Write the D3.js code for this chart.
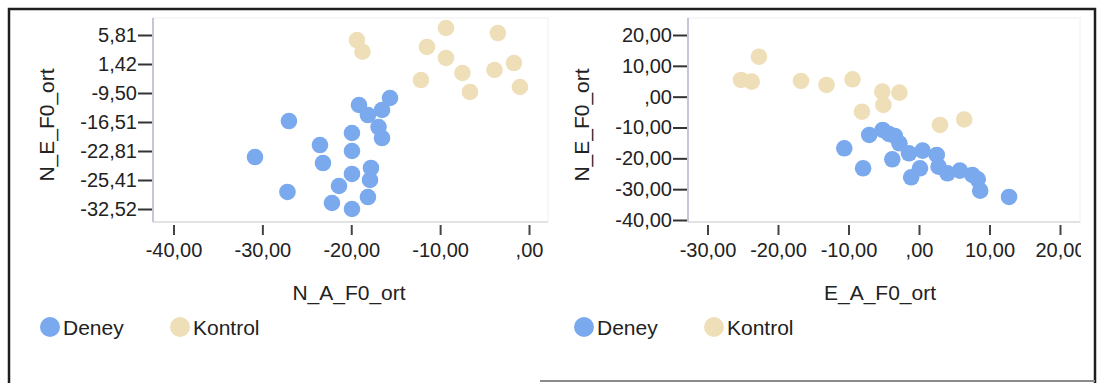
<!DOCTYPE html>
<html>
<head>
<meta charset="utf-8">
<script src="https://cdn.jsdelivr.net/npm/d3@7"></script>
<style>
  html, body { margin: 0; padding: 0; background: #fff; }
  svg { display: block; font-family: "Liberation Sans", Arial, sans-serif; }
</style>
</head>
<body>
<svg id="chart" width="1098" height="383"></svg>
<script>
// Group names
const groups = ["Deney", "Kontrol"];

// Left panel: N_A_F0_ort (x) vs N_E_F0_ort (y)
const leftDeneyX = [-15.64, -19.13, -16.54, -18.12, -27.01, -16.93, -19.92, -16.54, -23.52, -30.83,
                    -19.92, -23.18, -17.78, -19.92, -17.89, -21.38, -27.18, -18.12, -22.17, -19.92];
const leftDeneyY = [-10.71, -12.40, -13.61, -14.82, -16.27, -17.60, -18.90, -19.99, -21.51, -23.35,
                    -22.81, -23.89, -24.33, -24.87, -25.41, -26.88, -28.35, -29.58, -31.05, -32.52];
const leftKontrolX = [-19.36, -18.74, -9.34, -11.48, -3.50, -9.34, -7.49, -3.88, -1.69, -12.16, -6.64, -1.02];
const leftKontrolY = [5.05, 3.28, 6.87, 4.00, 6.11, 2.33, -1.97, -0.84, 1.57, -4.61, -9.12, -7.24];
const leftXTicks = [-40, -30, -20, -10, 0];
const leftYTicks = [5.81, 1.42, -9.50, -16.51, -22.81, -25.41, -32.52];

// Right panel: E_A_F0_ort (x) vs N_E_F0_ort (y)
const rightDeneyX = [-10.60, -7.06, -5.15, -4.26, -3.43, -2.78, -3.79, -1.42, 0.51, -7.93,
                     -1.11, 0.14, 2.52, 2.78, 4.04, 5.80, 7.57, 8.33, 8.68, 12.77];
const rightDeneyY = [-16.74, -12.42, -10.80, -12.10, -12.75, -15.12, -20.30, -18.36, -17.50, -23.22,
                     -26.14, -23.22, -18.91, -22.70, -24.85, -24.00, -25.40, -26.80, -30.49, -32.52];
const rightKontrolX = [-22.70, -25.25, -23.73, -16.74, -13.12, -9.43, -5.21, -2.78, -5.05, -8.09, 2.98, 6.41];
const rightKontrolY = [12.97, 5.42, 4.87, 5.09, 3.79, 5.64, 1.62, 1.30, -2.69, -4.87, -9.18, -7.40];
const rightXTicks = [-30, -20, -10, 0, 10, 20];
const rightYTicks = [20, 10, 0, -10, -20, -30, -40];

const colors = { Deney: "#7aa9ee", Kontrol: "#efdfb9" };

// Two decimals with a decimal comma and a plain hyphen for negatives;
// a leading zero before the comma is dropped (",00")
const fmt = v => d3.format(".2f")(v)
  .replace("\u2212", "-")
  .replace(".", ",")
  .replace(/^(-?)0,/, "$1,");

const svg = d3.select("#chart");

// Outer frame
svg.append("path")
  .attr("d", "M9,383 L9,9 L1095,9 L1095,383")
  .attr("fill", "none").attr("stroke", "#1e1e1e").attr("stroke-width", 2.5);
svg.append("line")
  .attr("x1", 540).attr("x2", 1095).attr("y1", 381).attr("y2", 381)
  .attr("stroke", "#8a8a8a").attr("stroke-width", 2);

function panel(cfg) {
  const g = svg.append("g");
  const { left, right, top, bottom } = cfg.box;

  // Plot area outline
  g.append("rect")
    .attr("x", left).attr("y", top).attr("width", right - left).attr("height", bottom - top)
    .attr("fill", "#fff").attr("stroke", "#f0f0f0").attr("stroke-width", 1);
  g.append("line")
    .attr("x1", left).attr("x2", right).attr("y1", bottom).attr("y2", bottom)
    .attr("stroke", "#dcdcdc").attr("stroke-width", 1.5);
  g.append("line")
    .attr("x1", left).attr("x2", left).attr("y1", top).attr("y2", bottom)
    .attr("stroke", "#c6c6da").attr("stroke-width", 2);

  const x = cfg.x, y = cfg.y;

  // Clip for the tick labels at the right edge
  const clipId = "clip-" + cfg.id;
  svg.append("clipPath").attr("id", clipId)
    .append("rect").attr("x", 0).attr("y", 0).attr("width", cfg.clipRight).attr("height", 383);

  // X axis: short ticks hanging below the plot area
  const xa = g.append("g")
    .attr("transform", `translate(0,${bottom + 3})`)
    .attr("clip-path", `url(#${clipId})`)
    .call(d3.axisBottom(x).tickValues(cfg.xTicks).tickFormat(fmt).tickSize(10).tickPadding(8));
  xa.select(".domain").remove();
  xa.selectAll(".tick line").attr("stroke", "#444").attr("stroke-width", 2);
  xa.selectAll(".tick text").attr("font-size", 20).attr("fill", "#222")
    .attr("font-family", "Liberation Sans, Arial, sans-serif");

  // Y axis
  const ya = g.append("g")
    .attr("transform", `translate(${left - 1},0)`)
    .call(d3.axisLeft(y).tickValues(cfg.yTicks).tickFormat(fmt).tickSize(14).tickPadding(1));
  ya.select(".domain").remove();
  ya.selectAll(".tick line").attr("stroke", "#333").attr("stroke-width", 2);
  ya.selectAll(".tick text").attr("font-size", 20).attr("fill", "#222")
    .attr("font-family", "Liberation Sans, Arial, sans-serif");

  // Points: Kontrol first, then Deney
  const series = [
    { key: "Kontrol", xs: cfg.kontrolX, ys: cfg.kontrolY },
    { key: "Deney", xs: cfg.deneyX, ys: cfg.deneyY }
  ];
  series.forEach(s => {
    g.append("g").selectAll("circle")
      .data(s.xs.map((v, i) => [v, s.ys[i]]))
      .join("circle")
      .attr("cx", d => x(d[0]))
      .attr("cy", d => y(d[1]))
      .attr("r", 8.3)
      .attr("fill", colors[s.key]);
  });

  // Axis titles
  g.append("text")
    .attr("x", cfg.xTitlePos[0]).attr("y", cfg.xTitlePos[1])
    .attr("text-anchor", "middle").attr("font-size", 21).attr("fill", "#222")
    .text(cfg.xTitle);
  g.append("text")
    .attr("transform", `translate(${cfg.yTitlePos[0]},${cfg.yTitlePos[1]}) rotate(-90)`)
    .attr("text-anchor", "middle").attr("font-size", 21).attr("fill", "#222")
    .text(cfg.yTitle);

  // Legend
  const lg = g.append("g");
  groups.forEach((name, i) => {
    const cx = cfg.legendX[i];
    lg.append("circle").attr("cx", cx).attr("cy", 327).attr("r", 10).attr("fill", colors[name]);
    lg.append("text").attr("x", cx + 13).attr("y", 335)
      .attr("font-size", 21).attr("fill", "#222").text(name);
  });
}

// Left panel scales: the vertical axis places its labelled values at equal steps
const lBox = { left: 153, right: 548, top: 18, bottom: 222 };
const lx = d3.scaleLinear().domain([-40, 0]).range([173.5, 529]);
const lyStep = (209 - 35) / (leftYTicks.length - 1);
const ly = d3.scaleLinear().domain(leftYTicks).range(leftYTicks.map((_, i) => 35 + i * lyStep));

panel({
  id: "left", box: lBox, x: lx, y: ly, clipRight: 1098,
  xTicks: leftXTicks, yTicks: leftYTicks,
  deneyX: leftDeneyX, deneyY: leftDeneyY, kontrolX: leftKontrolX, kontrolY: leftKontrolY,
  xTitle: "N_A_F0_ort", yTitle: "N_E_F0_ort",
  xTitlePos: [349, 300], yTitlePos: [54, 125],
  legendX: [50, 180]
});

// Right panel scales
const rBox = { left: 688, right: 1080, top: 18, bottom: 222 };
const rx = d3.scaleLinear().domain([-30, 20]).range([707.5, 1060]);
const ry = d3.scaleLinear().domain([20, -40]).range([35, 220]);

panel({
  id: "right", box: rBox, x: rx, y: ry, clipRight: 1081,
  xTicks: rightXTicks, yTicks: rightYTicks,
  deneyX: rightDeneyX, deneyY: rightDeneyY, kontrolX: rightKontrolX, kontrolY: rightKontrolY,
  xTitle: "E_A_F0_ort", yTitle: "N_E_F0_ort",
  xTitlePos: [880, 300], yTitlePos: [589, 125],
  legendX: [584, 714]
});
</script>
</body>
</html>
